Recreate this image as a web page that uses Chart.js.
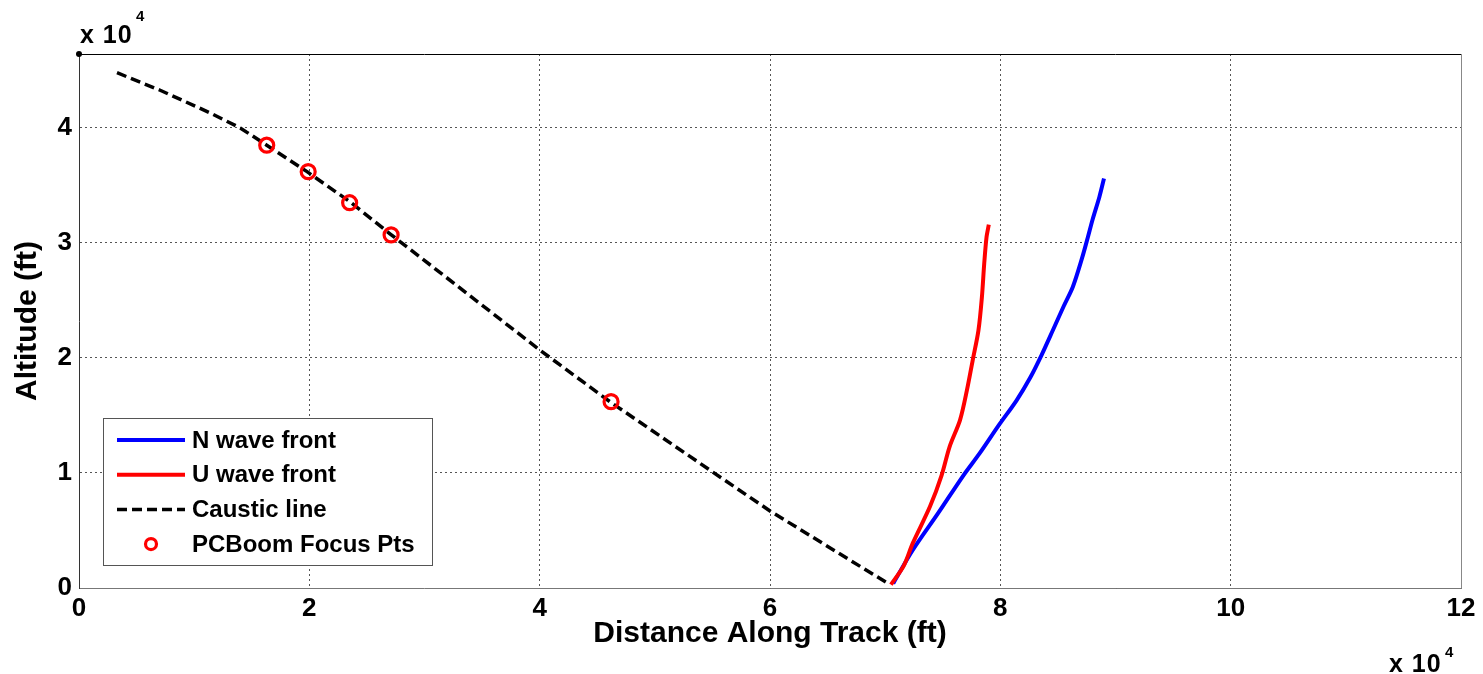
<!DOCTYPE html>
<html>
<head>
<meta charset="utf-8">
<title>Caustic line and wave fronts</title>
<script src="https://cdn.jsdelivr.net/npm/chart.js@4.4.1/dist/chart.umd.min.js"></script>
<style>
  body { margin: 0; background: #fff; }
  #wrap { width: 1483px; height: 674px; }
</style>
</head>
<body>
<div id="wrap"><canvas id="chart" width="1483" height="674"></canvas></div>
<script>
// N wave front, distance (ft) / altitude (ft)
const nWaveX = [70700, 72400, 74600, 76800, 78200, 79900, 81400, 82600, 83600, 84600, 85500, 86300, 87100, 87600, 88000, 88600, 89000];
const nWaveY = [400, 3300, 6500, 9800, 11700, 14200, 16300, 18300, 20300, 22500, 24500, 26200, 28700, 30500, 32000, 34000, 35600];

// U wave front
const uWaveX = [70500, 71600, 72400, 73900, 74900, 75600, 76500, 77100, 77600, 78100, 78400, 78600, 78800, 79000];
const uWaveY = [300, 1900, 3900, 7100, 9800, 12300, 14600, 17200, 19800, 22400, 25300, 28200, 30500, 31600];

// caustic line
const causticX = [3300, 7000, 11400, 14000, 16300, 19800, 23500, 27000, 31900, 40000, 46100, 55000, 60000, 70400];
const causticY = [44800, 43300, 41300, 40000, 38500, 36200, 33600, 30800, 27000, 20700, 16200, 10100, 6700, 300];

// PCBoom focus points
const focusX = [16300, 19900, 23500, 27100, 46200];
const focusY = [38500, 36200, 33500, 30700, 16200];

// corner marker
const cornerX = [0];
const cornerY = [46430];

const xTickValues = [0, 20000, 40000, 60000, 80000, 100000, 120000];
const xTickLabels = ['0', '2', '4', '6', '8', '10', '12'];
const yTickValues = [0, 10000, 20000, 30000, 40000];
const yTickLabels = ['0', '1', '2', '3', '4'];

const FONT = '"Liberation Sans", Arial, sans-serif';
Chart.defaults.font.family = FONT;
Chart.defaults.color = '#000';

const toPoints = (xs, ys) => xs.map((x, i) => ({ x: x, y: ys[i] }));

// legend box drawn inside the plot, lower left
const boxLegend = {
  id: 'boxLegend',
  afterDraw(chart) {
    const ctx = chart.ctx;
    const a = chart.chartArea;
    const left = a.left + 24, top = a.bottom - 170, w = 329, h = 147;
    ctx.save();
    ctx.fillStyle = '#fff';
    ctx.fillRect(left, top, w, h);
    ctx.strokeStyle = '#555';
    ctx.lineWidth = 1;
    ctx.strokeRect(left + 0.5, top + 0.5, w, h);
    ctx.font = 'bold 24px ' + FONT;
    ctx.textBaseline = 'middle';
    const rows = chart.data.datasets.filter(d => d.label);
    rows.forEach((ds, i) => {
      const y = top + 22 + i * 34.7;
      if (ds.showLine === false) {
        ctx.beginPath();
        ctx.arc(left + 48, y, 5.5, 0, 2 * Math.PI);
        ctx.lineWidth = ds.pointBorderWidth;
        ctx.strokeStyle = ds.pointBorderColor;
        ctx.stroke();
      } else {
        ctx.setLineDash(ds.borderDash || []);
        ctx.lineWidth = ds.borderWidth;
        ctx.strokeStyle = ds.borderColor;
        ctx.beginPath();
        ctx.moveTo(left + 14, y);
        ctx.lineTo(left + 82, y);
        ctx.stroke();
        ctx.setLineDash([]);
      }
      ctx.fillStyle = '#000';
      ctx.fillText(ds.label, left + 89, y + 1);
    });
    ctx.restore();
  }
};

// top/right box edges and the "x 10^4" multipliers
const axesBox = {
  id: 'axesBox',
  afterDraw(chart) {
    const ctx = chart.ctx;
    const a = chart.chartArea;
    ctx.save();
    ctx.lineWidth = 1;
    ctx.strokeStyle = '#000';
    ctx.beginPath();
    ctx.moveTo(a.left, a.top + 0.5);
    ctx.lineTo(a.right, a.top + 0.5);
    ctx.stroke();
    ctx.strokeStyle = '#888';
    ctx.beginPath();
    ctx.moveTo(a.right + 0.5, a.top);
    ctx.lineTo(a.right + 0.5, a.bottom);
    ctx.stroke();

    ctx.fillStyle = '#000';
    ctx.textBaseline = 'alphabetic';
    ctx.font = 'bold 25px ' + FONT;
    ctx.letterSpacing = '1px';
    ctx.fillText('x 10', a.left + 1, a.top - 11);
    ctx.fillText('x 10', a.right - 72, a.bottom + 84);
    ctx.font = 'bold 15px ' + FONT;
    ctx.letterSpacing = '0px';
    ctx.fillText('4', a.left + 57, a.top - 33);
    ctx.fillText('4', a.right - 16, a.bottom + 69);
    ctx.restore();
  }
};

new Chart(document.getElementById('chart'), {
  type: 'scatter',
  data: {
    datasets: [
      {
        label: 'N wave front',
        data: toPoints(nWaveX, nWaveY),
        showLine: true,
        borderColor: '#0000ff',
        borderWidth: 4,
        tension: 0.3,
        pointRadius: 0,
        order: 4
      },
      {
        label: 'U wave front',
        data: toPoints(uWaveX, uWaveY),
        showLine: true,
        borderColor: '#ff0000',
        borderWidth: 4,
        tension: 0.3,
        pointRadius: 0,
        order: 3
      },
      {
        label: 'Caustic line',
        data: toPoints(causticX, causticY),
        showLine: true,
        borderColor: '#000',
        borderWidth: 3.5,
        borderDash: [10, 5],
        pointRadius: 0,
        order: 2
      },
      {
        label: 'PCBoom Focus Pts',
        data: toPoints(focusX, focusY),
        showLine: false,
        pointRadius: 7,
        pointBorderWidth: 3.2,
        pointBorderColor: '#ff0000',
        pointBackgroundColor: 'rgba(0,0,0,0)',
        order: 1
      },
      {
        data: toPoints(cornerX, cornerY),
        showLine: false,
        pointRadius: 3,
        pointBorderWidth: 0,
        pointBackgroundColor: '#000',
        clip: false,
        order: 0
      }
    ]
  },
  options: {
    responsive: false,
    animation: false,
    layout: { padding: { top: 54, right: 22, left: 0, bottom: 0 } },
    plugins: {
      legend: { display: false },
      tooltip: { enabled: false }
    },
    scales: {
      x: {
        type: 'linear',
        min: 0,
        max: 120000,
        afterBuildTicks: s => { s.ticks = xTickValues.map(v => ({ value: v })); },
        afterFit: s => { s.height = 86; },
        ticks: {
          padding: 5,
          font: { size: 26, weight: 'bold' },
          callback: (v, i) => xTickLabels[i]
        },
        grid: { color: '#555', lineWidth: 1, drawTicks: false },
        border: { color: '#777', width: 1, dash: [2, 3] },
        title: {
          display: true,
          text: 'Distance Along Track (ft)',
          font: { size: 30, weight: 'bold' },
          padding: { top: 0, bottom: 22 }
        }
      },
      y: {
        type: 'linear',
        min: 0,
        max: 46430,
        afterBuildTicks: s => { s.ticks = yTickValues.map(v => ({ value: v })); },
        afterFit: s => { s.width = 79; },
        ticks: {
          padding: 7,
          font: { size: 26, weight: 'bold' },
          callback: (v, i) => yTickLabels[i]
        },
        grid: { color: '#555', lineWidth: 1, drawTicks: false },
        border: { color: '#333', width: 1, dash: [2, 3] },
        title: {
          display: true,
          text: 'Altitude (ft)',
          font: { size: 30, weight: 'bold' },
          padding: { top: 10, bottom: 0 }
        }
      }
    }
  },
  plugins: [boxLegend, axesBox]
});
</script>
</body>
</html>
